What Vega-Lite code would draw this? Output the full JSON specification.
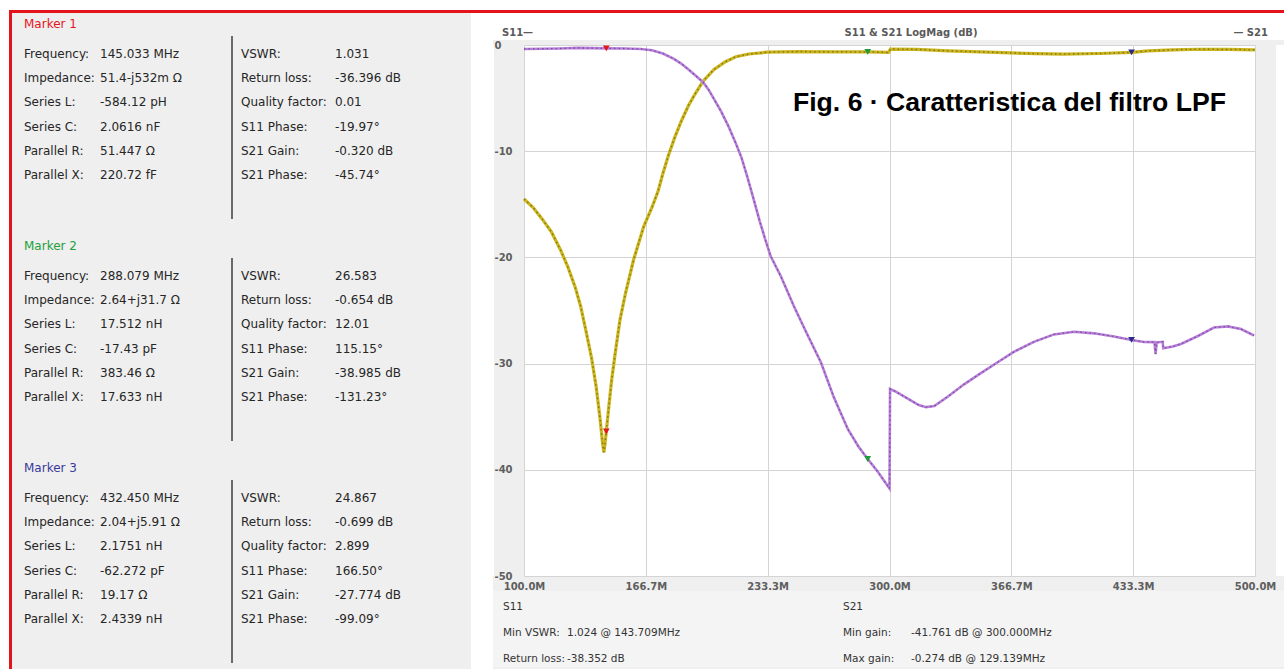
{
  "$schema": "https://vega.github.io/schema/vega-lite/v6.json",
  "background": "#efefef",
  "padding": 0,
  "spacing": 0,
  "config": {
    "view": {"stroke": null},
    "concat": {"spacing": 0},
    "text": {"font": "DejaVu Sans", "fontSize": 12, "color": "#262626", "align": "left", "baseline": "middle"}
  },
  "datasets": {
    "mk": [
      {"m": 1, "s": "L", "i": 1, "k": "Frequency:", "v": "145.033 MHz"},
      {"m": 1, "s": "L", "i": 2, "k": "Impedance:", "v": "51.4-j532m Ω"},
      {"m": 1, "s": "L", "i": 3, "k": "Series L:", "v": "-584.12 pH"},
      {"m": 1, "s": "L", "i": 4, "k": "Series C:", "v": "2.0616 nF"},
      {"m": 1, "s": "L", "i": 5, "k": "Parallel R:", "v": "51.447 Ω"},
      {"m": 1, "s": "L", "i": 6, "k": "Parallel X:", "v": "220.72 fF"},
      {"m": 1, "s": "R", "i": 1, "k": "VSWR:", "v": "1.031"},
      {"m": 1, "s": "R", "i": 2, "k": "Return loss:", "v": "-36.396 dB"},
      {"m": 1, "s": "R", "i": 3, "k": "Quality factor:", "v": "0.01"},
      {"m": 1, "s": "R", "i": 4, "k": "S11 Phase:", "v": "-19.97°"},
      {"m": 1, "s": "R", "i": 5, "k": "S21 Gain:", "v": "-0.320 dB"},
      {"m": 1, "s": "R", "i": 6, "k": "S21 Phase:", "v": "-45.74°"},
      {"m": 2, "s": "L", "i": 1, "k": "Frequency:", "v": "288.079 MHz"},
      {"m": 2, "s": "L", "i": 2, "k": "Impedance:", "v": "2.64+j31.7 Ω"},
      {"m": 2, "s": "L", "i": 3, "k": "Series L:", "v": "17.512 nH"},
      {"m": 2, "s": "L", "i": 4, "k": "Series C:", "v": "-17.43 pF"},
      {"m": 2, "s": "L", "i": 5, "k": "Parallel R:", "v": "383.46 Ω"},
      {"m": 2, "s": "L", "i": 6, "k": "Parallel X:", "v": "17.633 nH"},
      {"m": 2, "s": "R", "i": 1, "k": "VSWR:", "v": "26.583"},
      {"m": 2, "s": "R", "i": 2, "k": "Return loss:", "v": "-0.654 dB"},
      {"m": 2, "s": "R", "i": 3, "k": "Quality factor:", "v": "12.01"},
      {"m": 2, "s": "R", "i": 4, "k": "S11 Phase:", "v": "115.15°"},
      {"m": 2, "s": "R", "i": 5, "k": "S21 Gain:", "v": "-38.985 dB"},
      {"m": 2, "s": "R", "i": 6, "k": "S21 Phase:", "v": "-131.23°"},
      {"m": 3, "s": "L", "i": 1, "k": "Frequency:", "v": "432.450 MHz"},
      {"m": 3, "s": "L", "i": 2, "k": "Impedance:", "v": "2.04+j5.91 Ω"},
      {"m": 3, "s": "L", "i": 3, "k": "Series L:", "v": "2.1751 nH"},
      {"m": 3, "s": "L", "i": 4, "k": "Series C:", "v": "-62.272 pF"},
      {"m": 3, "s": "L", "i": 5, "k": "Parallel R:", "v": "19.17 Ω"},
      {"m": 3, "s": "L", "i": 6, "k": "Parallel X:", "v": "2.4339 nH"},
      {"m": 3, "s": "R", "i": 1, "k": "VSWR:", "v": "24.867"},
      {"m": 3, "s": "R", "i": 2, "k": "Return loss:", "v": "-0.699 dB"},
      {"m": 3, "s": "R", "i": 3, "k": "Quality factor:", "v": "2.899"},
      {"m": 3, "s": "R", "i": 4, "k": "S11 Phase:", "v": "166.50°"},
      {"m": 3, "s": "R", "i": 5, "k": "S21 Gain:", "v": "-27.774 dB"},
      {"m": 3, "s": "R", "i": 6, "k": "S21 Phase:", "v": "-99.09°"}
    ],
    "mt": [
      {"m": 1, "t": "Marker 1"},
      {"m": 2, "t": "Marker 2"},
      {"m": 3, "t": "Marker 3"}
    ],
    "hd": [
      {"p": "l", "t": "S11—"},
      {"p": "c", "t": "S11 & S21 LogMag (dB)"},
      {"p": "r", "t": "— S21"}
    ],
    "ft": [
      {"c": 1, "i": 1, "t": "S11"},
      {"c": 1, "i": 2, "t": "Min VSWR:"},
      {"c": 1, "i": 3, "t": "Return loss:"},
      {"c": 2, "i": 2, "t": "1.024 @ 143.709MHz"},
      {"c": 2, "i": 3, "t": "-38.352 dB"},
      {"c": 3, "i": 1, "t": "S21"},
      {"c": 3, "i": 2, "t": "Min gain:"},
      {"c": 3, "i": 3, "t": "Max gain:"},
      {"c": 4, "i": 2, "t": "-41.761 dB @ 300.000MHz"},
      {"c": 4, "i": 3, "t": "-0.274 dB @ 129.139MHz"}
    ],
    "s11": [
      {"f": 100, "db": -14.5}, {"f": 105, "db": -15.3}, {"f": 110, "db": -16.4}, {"f": 115, "db": -17.6},
      {"f": 120, "db": -19.3}, {"f": 124, "db": -20.9}, {"f": 128, "db": -22.8}, {"f": 131, "db": -24.6},
      {"f": 134, "db": -27.0}, {"f": 137, "db": -29.5}, {"f": 139.5, "db": -32.2}, {"f": 141.5, "db": -35.0},
      {"f": 143, "db": -37.5}, {"f": 143.709, "db": -38.352}, {"f": 144.3, "db": -37.6}, {"f": 145.033, "db": -36.4},
      {"f": 146.5, "db": -33.9}, {"f": 148, "db": -31.5}, {"f": 150, "db": -28.9}, {"f": 152.5, "db": -25.9},
      {"f": 155.5, "db": -23.4}, {"f": 160, "db": -20.2}, {"f": 165.5, "db": -17.1}, {"f": 170, "db": -15.3},
      {"f": 173.3, "db": -13.8}, {"f": 176, "db": -12.1}, {"f": 179, "db": -10.4}, {"f": 182.5, "db": -8.7},
      {"f": 186, "db": -7.2}, {"f": 190, "db": -5.7}, {"f": 194, "db": -4.5}, {"f": 198, "db": -3.4},
      {"f": 204, "db": -2.3}, {"f": 210, "db": -1.6}, {"f": 216, "db": -1.1}, {"f": 223, "db": -0.85},
      {"f": 233, "db": -0.68}, {"f": 250, "db": -0.62}, {"f": 270, "db": -0.64}, {"f": 288.079, "db": -0.654},
      {"f": 299.5, "db": -0.7}, {"f": 300.5, "db": -0.38}, {"f": 315, "db": -0.42}, {"f": 332, "db": -0.55},
      {"f": 350, "db": -0.65}, {"f": 366.5, "db": -0.75}, {"f": 380, "db": -0.82}, {"f": 395, "db": -0.85},
      {"f": 415, "db": -0.8}, {"f": 432.45, "db": -0.699}, {"f": 441.5, "db": -0.55}, {"f": 455, "db": -0.45},
      {"f": 469, "db": -0.4}, {"f": 485, "db": -0.42}, {"f": 500, "db": -0.45}
    ],
    "s21": [
      {"f": 100, "db": -0.38}, {"f": 120, "db": -0.33}, {"f": 129.139, "db": -0.274}, {"f": 145.033, "db": -0.32},
      {"f": 155, "db": -0.33}, {"f": 164, "db": -0.38}, {"f": 170, "db": -0.5}, {"f": 176, "db": -0.8},
      {"f": 182, "db": -1.3}, {"f": 186, "db": -1.75}, {"f": 190, "db": -2.3}, {"f": 194, "db": -2.9},
      {"f": 198, "db": -3.5}, {"f": 201, "db": -4.2}, {"f": 204, "db": -5.1}, {"f": 208, "db": -6.3},
      {"f": 212, "db": -7.7}, {"f": 216, "db": -9.3}, {"f": 219, "db": -10.6}, {"f": 222, "db": -12.3},
      {"f": 225.3, "db": -14.3}, {"f": 229, "db": -16.6}, {"f": 232, "db": -18.3}, {"f": 235, "db": -19.9},
      {"f": 240.6, "db": -21.8}, {"f": 247.7, "db": -24.6}, {"f": 254.3, "db": -27.0}, {"f": 262.5, "db": -29.9},
      {"f": 269.6, "db": -33.2}, {"f": 277.3, "db": -36.2}, {"f": 283, "db": -37.8}, {"f": 288.079, "db": -38.985},
      {"f": 293.7, "db": -40.2}, {"f": 300, "db": -41.761}, {"f": 300.3, "db": -32.4}, {"f": 303, "db": -32.6},
      {"f": 310, "db": -33.3}, {"f": 316, "db": -33.9}, {"f": 320, "db": -34.1}, {"f": 324.5, "db": -34.0},
      {"f": 332, "db": -33.1}, {"f": 340.8, "db": -31.95}, {"f": 350, "db": -30.9}, {"f": 359.4, "db": -29.85},
      {"f": 368, "db": -28.9}, {"f": 379, "db": -27.95}, {"f": 390, "db": -27.25}, {"f": 401, "db": -27.0},
      {"f": 412, "db": -27.15}, {"f": 422.8, "db": -27.45}, {"f": 432.45, "db": -27.774}, {"f": 439.3, "db": -27.97},
      {"f": 445, "db": -27.98}, {"f": 445.6, "db": -29.1}, {"f": 446.2, "db": -28.0}, {"f": 449.5, "db": -27.95},
      {"f": 449.8, "db": -28.55}, {"f": 455, "db": -28.4}, {"f": 459.5, "db": -28.15}, {"f": 468.8, "db": -27.4},
      {"f": 477.6, "db": -26.6}, {"f": 485.2, "db": -26.5}, {"f": 492.3, "db": -26.75}, {"f": 499.5, "db": -27.35}
    ],
    "mm": [
      {"f": 145.033, "db": -36.396, "m": "1"},
      {"f": 145.033, "db": -0.32, "m": "1"},
      {"f": 288.079, "db": -0.654, "m": "2"},
      {"f": 288.079, "db": -38.985, "m": "2"},
      {"f": 432.45, "db": -0.699, "m": "3"},
      {"f": 432.45, "db": -27.774, "m": "3"}
    ],
    "fig": [
      {"f": 484.1, "db": -5.46, "t": "Fig. 6 · Caratteristica del filtro LPF"}
    ]
  },
  "vconcat": [
    {"width": 1284, "height": 10, "data": {"values": []}, "mark": "text", "view": {"fill": "#ffffff", "stroke": null}},
    {
      "hconcat": [
        {"width": 9, "height": 3, "data": {"values": []}, "mark": "text", "view": {"fill": "#ffffff", "stroke": null}},
        {"width": 1275, "height": 3, "data": {"values": []}, "mark": "text", "view": {"fill": "#e3121b", "stroke": null}}
      ],
      "spacing": 0
    },
    {
      "hconcat": [
        {"width": 9, "height": 656, "data": {"values": []}, "mark": "text", "view": {"fill": "#ffffff", "stroke": null}},
        {"width": 3, "height": 656, "data": {"values": []}, "mark": "text", "view": {"fill": "#e3121b", "stroke": null}},
        {
          "hconcat": [
            {"width": 12, "height": 656, "data": {"values": []}, "mark": "text"},
            {
              "vconcat": [
                {
                  "vconcat": [
                    {"width": 446, "height": 22, "data": {"name": "mt"}, "transform": [{"filter": "datum.m == 1"}], "mark": {"type": "text", "color": "#e3161e"}, "encoding": {"x": {"datum": 0, "type": "quantitative", "scale": {"domain": [0, 1]}, "axis": null}, "text": {"field": "t"}}},
                    {
                      "hconcat": [
                        {"width": 76, "height": 183, "data": {"name": "mk"}, "transform": [{"filter": "datum.m == 1 && datum.s == 'L'"}], "mark": "text", "encoding": {"x": {"datum": 0, "type": "quantitative", "scale": {"domain": [0, 1]}, "axis": null}, "y": {"field": "i", "type": "ordinal", "axis": null, "scale": {"type": "point", "domain": [1, 2, 3, 4, 5, 6, 7], "padding": 0.78, "align": 0.476}}, "text": {"field": "k"}}},
                        {"width": 131, "height": 183, "data": {"name": "mk"}, "transform": [{"filter": "datum.m == 1 && datum.s == 'L'"}], "mark": "text", "encoding": {"x": {"datum": 0, "type": "quantitative", "scale": {"domain": [0, 1]}, "axis": null}, "y": {"field": "i", "type": "ordinal", "axis": null, "scale": {"type": "point", "domain": [1, 2, 3, 4, 5, 6, 7], "padding": 0.78, "align": 0.476}}, "text": {"field": "v"}}},
                        {"width": 9, "height": 183, "data": {"values": [{}]}, "mark": {"type": "rule", "color": "#3c3c3c", "strokeWidth": 1.5}, "encoding": {"x": {"datum": 0, "type": "quantitative", "scale": {"domain": [0, 1]}, "axis": null}}},
                        {"width": 94, "height": 183, "data": {"name": "mk"}, "transform": [{"filter": "datum.m == 1 && datum.s == 'R'"}], "mark": "text", "encoding": {"x": {"datum": 0, "type": "quantitative", "scale": {"domain": [0, 1]}, "axis": null}, "y": {"field": "i", "type": "ordinal", "axis": null, "scale": {"type": "point", "domain": [1, 2, 3, 4, 5, 6, 7], "padding": 0.78, "align": 0.476}}, "text": {"field": "k"}}},
                        {"width": 136, "height": 183, "data": {"name": "mk"}, "transform": [{"filter": "datum.m == 1 && datum.s == 'R'"}], "mark": "text", "encoding": {"x": {"datum": 0, "type": "quantitative", "scale": {"domain": [0, 1]}, "axis": null}, "y": {"field": "i", "type": "ordinal", "axis": null, "scale": {"type": "point", "domain": [1, 2, 3, 4, 5, 6, 7], "padding": 0.78, "align": 0.476}}, "text": {"field": "v"}}}
                      ],
                      "spacing": 0
                    }
                  ],
                  "spacing": 0
                },
                {
                  "vconcat": [
                    {"width": 446, "height": 22, "data": {"name": "mt"}, "transform": [{"filter": "datum.m == 2"}], "mark": {"type": "text", "color": "#22a03b"}, "encoding": {"x": {"datum": 0, "type": "quantitative", "scale": {"domain": [0, 1]}, "axis": null}, "text": {"field": "t"}}},
                    {
                      "hconcat": [
                        {"width": 76, "height": 183, "data": {"name": "mk"}, "transform": [{"filter": "datum.m == 2 && datum.s == 'L'"}], "mark": "text", "encoding": {"x": {"datum": 0, "type": "quantitative", "scale": {"domain": [0, 1]}, "axis": null}, "y": {"field": "i", "type": "ordinal", "axis": null, "scale": {"type": "point", "domain": [1, 2, 3, 4, 5, 6, 7], "padding": 0.78, "align": 0.476}}, "text": {"field": "k"}}},
                        {"width": 131, "height": 183, "data": {"name": "mk"}, "transform": [{"filter": "datum.m == 2 && datum.s == 'L'"}], "mark": "text", "encoding": {"x": {"datum": 0, "type": "quantitative", "scale": {"domain": [0, 1]}, "axis": null}, "y": {"field": "i", "type": "ordinal", "axis": null, "scale": {"type": "point", "domain": [1, 2, 3, 4, 5, 6, 7], "padding": 0.78, "align": 0.476}}, "text": {"field": "v"}}},
                        {"width": 9, "height": 183, "data": {"values": [{}]}, "mark": {"type": "rule", "color": "#3c3c3c", "strokeWidth": 1.5}, "encoding": {"x": {"datum": 0, "type": "quantitative", "scale": {"domain": [0, 1]}, "axis": null}}},
                        {"width": 94, "height": 183, "data": {"name": "mk"}, "transform": [{"filter": "datum.m == 2 && datum.s == 'R'"}], "mark": "text", "encoding": {"x": {"datum": 0, "type": "quantitative", "scale": {"domain": [0, 1]}, "axis": null}, "y": {"field": "i", "type": "ordinal", "axis": null, "scale": {"type": "point", "domain": [1, 2, 3, 4, 5, 6, 7], "padding": 0.78, "align": 0.476}}, "text": {"field": "k"}}},
                        {"width": 136, "height": 183, "data": {"name": "mk"}, "transform": [{"filter": "datum.m == 2 && datum.s == 'R'"}], "mark": "text", "encoding": {"x": {"datum": 0, "type": "quantitative", "scale": {"domain": [0, 1]}, "axis": null}, "y": {"field": "i", "type": "ordinal", "axis": null, "scale": {"type": "point", "domain": [1, 2, 3, 4, 5, 6, 7], "padding": 0.78, "align": 0.476}}, "text": {"field": "v"}}}
                      ],
                      "spacing": 0
                    }
                  ],
                  "spacing": 0
                },
                {
                  "vconcat": [
                    {"width": 446, "height": 22, "data": {"name": "mt"}, "transform": [{"filter": "datum.m == 3"}], "mark": {"type": "text", "color": "#3a3a9c"}, "encoding": {"x": {"datum": 0, "type": "quantitative", "scale": {"domain": [0, 1]}, "axis": null}, "text": {"field": "t"}}},
                    {
                      "hconcat": [
                        {"width": 76, "height": 183, "data": {"name": "mk"}, "transform": [{"filter": "datum.m == 3 && datum.s == 'L'"}], "mark": "text", "encoding": {"x": {"datum": 0, "type": "quantitative", "scale": {"domain": [0, 1]}, "axis": null}, "y": {"field": "i", "type": "ordinal", "axis": null, "scale": {"type": "point", "domain": [1, 2, 3, 4, 5, 6, 7], "padding": 0.78, "align": 0.476}}, "text": {"field": "k"}}},
                        {"width": 131, "height": 183, "data": {"name": "mk"}, "transform": [{"filter": "datum.m == 3 && datum.s == 'L'"}], "mark": "text", "encoding": {"x": {"datum": 0, "type": "quantitative", "scale": {"domain": [0, 1]}, "axis": null}, "y": {"field": "i", "type": "ordinal", "axis": null, "scale": {"type": "point", "domain": [1, 2, 3, 4, 5, 6, 7], "padding": 0.78, "align": 0.476}}, "text": {"field": "v"}}},
                        {"width": 9, "height": 183, "data": {"values": [{}]}, "mark": {"type": "rule", "color": "#3c3c3c", "strokeWidth": 1.5}, "encoding": {"x": {"datum": 0, "type": "quantitative", "scale": {"domain": [0, 1]}, "axis": null}}},
                        {"width": 94, "height": 183, "data": {"name": "mk"}, "transform": [{"filter": "datum.m == 3 && datum.s == 'R'"}], "mark": "text", "encoding": {"x": {"datum": 0, "type": "quantitative", "scale": {"domain": [0, 1]}, "axis": null}, "y": {"field": "i", "type": "ordinal", "axis": null, "scale": {"type": "point", "domain": [1, 2, 3, 4, 5, 6, 7], "padding": 0.78, "align": 0.476}}, "text": {"field": "k"}}},
                        {"width": 136, "height": 183, "data": {"name": "mk"}, "transform": [{"filter": "datum.m == 3 && datum.s == 'R'"}], "mark": "text", "encoding": {"x": {"datum": 0, "type": "quantitative", "scale": {"domain": [0, 1]}, "axis": null}, "y": {"field": "i", "type": "ordinal", "axis": null, "scale": {"type": "point", "domain": [1, 2, 3, 4, 5, 6, 7], "padding": 0.78, "align": 0.476}}, "text": {"field": "v"}}}
                      ],
                      "spacing": 0
                    }
                  ],
                  "spacing": 0
                }
              ],
              "spacing": 15
            }
          ],
          "spacing": 0
        },
        {
          "hconcat": [
            {"width": 22, "height": 656, "data": {"values": []}, "mark": "text", "view": {"fill": "#ffffff", "stroke": null}},
            {
              "vconcat": [
                {
                  "hconcat": [
                    {"width": 9, "height": 27, "data": {"values": []}, "mark": "text", "view": {"fill": "#ffffff", "stroke": null}},
                    {"width": 324, "height": 27, "view": {"fill": "#ffffff", "stroke": null}, "data": {"name": "hd"}, "transform": [{"filter": "datum.p == 'l'"}], "mark": {"type": "text", "fontWeight": "bold", "fontSize": 10, "color": "#5a5a5a", "dy": 6}, "encoding": {"x": {"datum": 0, "type": "quantitative", "scale": {"domain": [0, 1]}, "axis": null}, "text": {"field": "t"}}},
                    {"width": 170, "height": 27, "view": {"fill": "#ffffff", "stroke": null}, "data": {"name": "hd"}, "transform": [{"filter": "datum.p == 'c'"}], "mark": {"type": "text", "align": "center", "fontWeight": "bold", "fontSize": 10, "color": "#5a5a5a", "dy": 6}, "encoding": {"x": {"datum": 0.5, "type": "quantitative", "scale": {"domain": [0, 1]}, "axis": null}, "text": {"field": "t"}}},
                    {"width": 272, "height": 27, "view": {"fill": "#ffffff", "stroke": null}, "data": {"name": "hd"}, "transform": [{"filter": "datum.p == 'r'"}], "mark": {"type": "text", "align": "right", "fontWeight": "bold", "fontSize": 10, "color": "#5a5a5a", "dy": 6}, "encoding": {"x": {"datum": 1, "type": "quantitative", "scale": {"domain": [0, 1]}, "axis": null}, "text": {"field": "t"}}},
                    {"width": 17, "height": 27, "data": {"values": []}, "mark": "text", "view": {"fill": "#ffffff", "stroke": null}}
                  ],
                  "spacing": 0
                },
                {
                  "hconcat": [
                    {"width": 1, "height": 531, "data": {"values": []}, "mark": "text", "view": {"fill": "#ffffff", "stroke": null}},
                    {
                      "width": 731, "height": 531, "view": {"fill": "#ffffff", "stroke": null},
                      "encoding": {
                        "x": {"field": "f", "type": "quantitative", "scale": {"domain": [100, 500], "nice": false, "zero": false},
                          "axis": {"title": null, "values": [100, 166.6667, 233.3333, 300, 366.6667, 433.3333, 500], "labelExpr": "format(datum.value, '.1f') + 'M'", "grid": true, "gridColor": "#d4d4d4", "domain": false, "ticks": false, "tickSize": 0, "labelPadding": 5, "labelFont": "DejaVu Sans", "labelFontWeight": "bold", "labelFontSize": 10, "labelColor": "#5e5e5e", "labelFlush": false, "labelOverlap": false}},
                        "y": {"field": "db", "type": "quantitative", "scale": {"domain": [-50, 0], "nice": false, "zero": false},
                          "axis": {"title": null, "values": [0, -10, -20, -30, -40, -50], "labelExpr": "datum.value == 0 ? '0' : '-' + abs(datum.value)", "grid": true, "gridColor": "#d4d4d4", "domain": false, "ticks": false, "tickSize": 0, "labelAlign": "left", "labelBaseline": "middle", "labelPadding": 30, "labelFont": "DejaVu Sans", "labelFontWeight": "bold", "labelFontSize": 10, "labelColor": "#5e5e5e", "labelFlush": false, "labelOverlap": false}}
                      },
                      "layer": [
                        {"data": {"name": "s11"}, "mark": {"type": "line", "color": "#ccb61e", "strokeWidth": 3.2}},
                        {"data": {"name": "s11"}, "mark": {"type": "line", "color": "#85771a", "strokeWidth": 1.5, "strokeDash": [1.5, 3]}},
                        {"data": {"name": "s21"}, "mark": {"type": "line", "color": "#b77fd9", "strokeWidth": 2.6}},
                        {"data": {"name": "s21"}, "mark": {"type": "line", "color": "#7b4c9e", "strokeWidth": 1.3, "strokeDash": [1.5, 3]}},
                        {"data": {"name": "mm"}, "mark": {"type": "point", "shape": "triangle-down", "filled": true, "size": 45, "opacity": 1},
                          "encoding": {"color": {"field": "m", "type": "nominal", "scale": {"domain": ["1", "2", "3"], "range": ["#e3161e", "#1f9a3c", "#2b2b8c"]}, "legend": null}}},
                        {"data": {"name": "fig"}, "mark": {"type": "text", "font": "Liberation Sans", "fontWeight": "bold", "fontSize": 26.6, "align": "right", "color": "#000000"}, "encoding": {"text": {"field": "t"}}}
                      ]
                    },
                    {"width": 8, "height": 531, "data": {"values": []}, "mark": "text", "view": {"fill": "#ffffff", "stroke": null}}
                  ],
                  "spacing": 0
                },
                {
                  "hconcat": [
                    {"width": 10, "height": 76, "data": {"values": []}, "mark": "text", "view": {"fill": "#f4f4f4", "stroke": null}},
                    {"width": 64, "height": 76, "view": {"fill": "#f4f4f4", "stroke": null}, "data": {"name": "ft"}, "transform": [{"filter": "datum.c == 1"}], "mark": {"type": "text", "fontSize": 10.5, "color": "#333333"}, "encoding": {"x": {"datum": 0, "type": "quantitative", "scale": {"domain": [0, 1]}, "axis": null}, "y": {"field": "i", "type": "ordinal", "axis": null, "scale": {"type": "point", "domain": [1, 2, 3], "padding": 0.4615, "align": 0.667}}, "text": {"field": "t"}}},
                    {"width": 276, "height": 76, "view": {"fill": "#f4f4f4", "stroke": null}, "data": {"name": "ft"}, "transform": [{"filter": "datum.c == 2"}], "mark": {"type": "text", "fontSize": 10.5, "color": "#333333"}, "encoding": {"x": {"datum": 0, "type": "quantitative", "scale": {"domain": [0, 1]}, "axis": null}, "y": {"field": "i", "type": "ordinal", "axis": null, "scale": {"type": "point", "domain": [1, 2, 3], "padding": 0.4615, "align": 0.667}}, "text": {"field": "t"}}},
                    {"width": 68, "height": 76, "view": {"fill": "#f4f4f4", "stroke": null}, "data": {"name": "ft"}, "transform": [{"filter": "datum.c == 3"}], "mark": {"type": "text", "fontSize": 10.5, "color": "#333333"}, "encoding": {"x": {"datum": 0, "type": "quantitative", "scale": {"domain": [0, 1]}, "axis": null}, "y": {"field": "i", "type": "ordinal", "axis": null, "scale": {"type": "point", "domain": [1, 2, 3], "padding": 0.4615, "align": 0.667}}, "text": {"field": "t"}}},
                    {"width": 374, "height": 76, "view": {"fill": "#f4f4f4", "stroke": null}, "data": {"name": "ft"}, "transform": [{"filter": "datum.c == 4"}], "mark": {"type": "text", "fontSize": 10.5, "color": "#333333"}, "encoding": {"x": {"datum": 0, "type": "quantitative", "scale": {"domain": [0, 1]}, "axis": null}, "y": {"field": "i", "type": "ordinal", "axis": null, "scale": {"type": "point", "domain": [1, 2, 3], "padding": 0.4615, "align": 0.667}}, "text": {"field": "t"}}}
                  ],
                  "spacing": 0
                }
              ],
              "spacing": 0
            }
          ],
          "spacing": 0
        }
      ],
      "spacing": 0
    }
  ]
}
